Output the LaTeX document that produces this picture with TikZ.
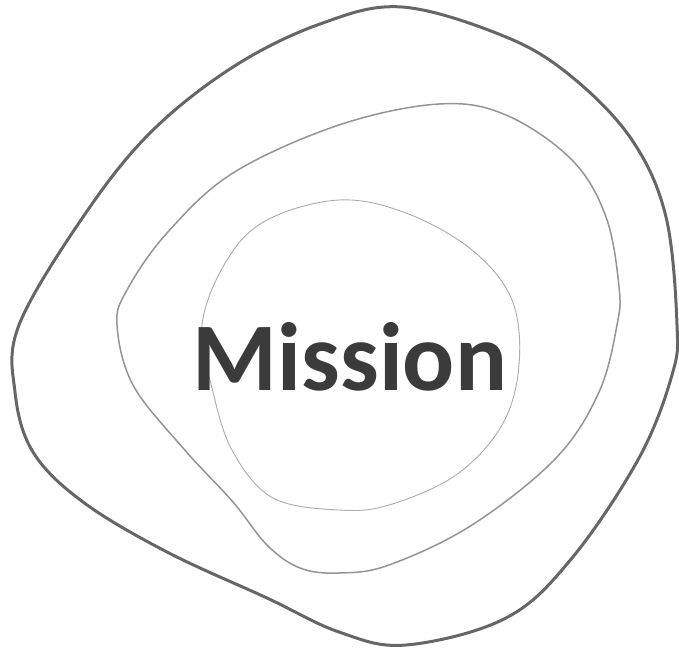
\documentclass[tikz,border=0pt]{standalone}
\usepackage{fontspec}
\setmainfont{Carlito}
\begin{document}
\begin{tikzpicture}[x=1pt,y=-1pt,
  blobouter/.style={draw=black!60, line width=3pt},
  blobmid/.style={draw=black!42, line width=1.5pt},
  blobinner/.style={draw=black!33, line width=0.9pt},
  title/.style={font=\fontsize{97}{100}\selectfont\bfseries, text=black!77, anchor=base, inner sep=0pt}]
\useasboundingbox (0,0) rectangle (679,650);
\draw[blobouter] plot[smooth cycle, tension=0.6] coordinates {
 (402,7) (506,37) (572,77) (632,140) (666,217) (677,325) (672,375) (639,458)
 (572,558) (506,618) (406,645) (339,632) (267,598) (167,552) (83,502) (33,452)
 (15,392) (19,325) (83,217) (150,133) (233,67) (320,24)};
\draw[blobmid] plot[smooth cycle, tension=0.6] coordinates {
 (439,104) (506,115) (572,160) (606,217) (619,287) (617,325) (599,392) (556,458)
 (472,525) (389,565) (339,573) (300,568) (267,545) (233,502) (183,448) (133,385)
 (117,325) (127,290) (167,233) (233,173) (339,125)};
\draw[blobinner] plot[smooth cycle, tension=0.6] coordinates {
 (339,200) (406,213) (472,250) (512,300) (519,365) (502,425) (456,475) (389,505)
 (339,510) (273,498) (233,452) (213,392) (202,325) (227,260) (267,220)};
\node[title] (mission) at (350,390) {Mission};
\end{tikzpicture}
\end{document}
